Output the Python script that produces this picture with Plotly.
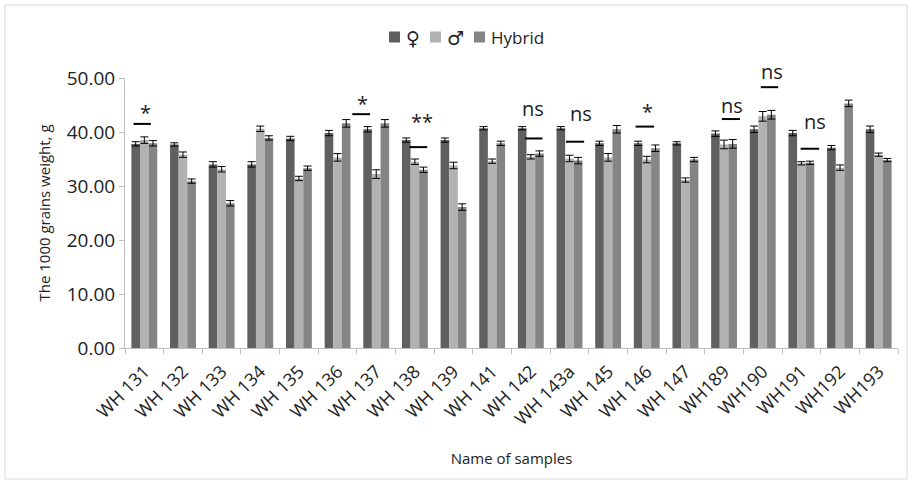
import plotly.graph_objects as go

categories = ["WH 131", "WH 132", "WH 133", "WH 134", "WH 135", "WH 136", "WH 137",
              "WH 138", "WH 139", "WH 141", "WH 142", "WH 143a", "WH 145", "WH 146",
              "WH 147", "WH189", "WH190", "WH191", "WH192", "WH193"]

female = [37.8, 37.7, 34.0, 34.0, 38.8, 39.8, 40.5, 38.5, 38.5, 40.7,
          40.7, 40.7, 37.9, 37.9, 37.9, 39.7, 40.5, 39.8, 37.1, 40.5]
male = [38.5, 35.8, 33.1, 40.6, 31.4, 35.3, 32.2, 34.5, 33.8, 34.6,
        35.4, 35.1, 35.3, 34.9, 31.1, 37.7, 42.9, 34.2, 33.4, 35.8]
hybrid = [37.9, 30.9, 26.8, 38.9, 33.3, 41.6, 41.6, 33.0, 26.1, 37.9,
          36.0, 34.7, 40.5, 37.0, 34.9, 37.8, 43.2, 34.3, 45.3, 34.8]

err_female = [0.4, 0.3, 0.5, 0.5, 0.4, 0.5, 0.5, 0.4, 0.4, 0.3,
              0.3, 0.3, 0.4, 0.4, 0.3, 0.5, 0.6, 0.5, 0.4, 0.6]
err_male = [0.6, 0.5, 0.5, 0.5, 0.4, 0.7, 0.8, 0.5, 0.6, 0.4,
            0.4, 0.6, 0.7, 0.6, 0.4, 0.8, 0.9, 0.3, 0.5, 0.3]
err_hybrid = [0.5, 0.4, 0.5, 0.4, 0.4, 0.7, 0.7, 0.5, 0.6, 0.4,
              0.5, 0.6, 0.7, 0.6, 0.4, 0.8, 0.8, 0.3, 0.6, 0.3]

series_names = ["♀", "♂", "Hybrid"]
y_ticks = [0, 10, 20, 30, 40, 50]
Y_MAX = 50

# significance marks: (category, text, line level, text level)
sig_cats = ["WH 131", "WH 137", "WH 138", "WH 142", "WH 143a", "WH 146", "WH189", "WH190", "WH191"]
sig_text = ["*", "*", "**", "ns", "ns", "*", "ns", "ns", "ns"]
sig_line_y = [41.5, 43.3, 37.2, 38.8, 38.2, 41.0, 42.4, 48.3, 36.9]
sig_text_y = [43.6, 45.2, 41.9, 44.4, 43.5, 43.8, 45.0, 51.2, 42.0]
sig_line_x0 = [-0.28, -0.62, -0.14, -0.15, -0.09, -0.29, -0.06, -0.05, -0.02]
sig_line_x1 = [0.17, -0.16, 0.32, 0.30, 0.38, 0.19, 0.41, 0.40, 0.46]
sig_text_dx = [0.02, -0.35, 0.18, 0.05, 0.30, 0.02, 0.20, 0.23, 0.35]

colors = ["#606060", "#b2b2b2", "#858585"]
FONT = "Open Sans"
TXT = "#222222"

# plot-area geometry in pixels (for paper-referenced decorations)
L, R, T, B = 125, 898, 78, 348
def px(x):
    return (x - L) / (R - L)
def py(y):
    return (B - y) / (B - T)

fig = go.Figure()
for name, vals, errs, col in zip(series_names, [female, male, hybrid],
                                 [err_female, err_male, err_hybrid], colors):
    fig.add_trace(go.Bar(
        x=categories, y=vals, name=name, showlegend=False,
        marker=dict(color=col, line=dict(width=0)),
        error_y=dict(type="data", array=errs, visible=True, color="black",
                     thickness=1, width=4),
    ))

shapes = []
annotations = []
for c, t, ly, ty, x0, x1, dx in zip(sig_cats, sig_text, sig_line_y, sig_text_y,
                                     sig_line_x0, sig_line_x1, sig_text_dx):
    i = categories.index(c)
    shapes.append(dict(type="line", xref="x", yref="y", x0=i + x0, x1=i + x1,
                       y0=ly, y1=ly, line=dict(color="black", width=2)))
    annotations.append(dict(xref="x", yref="paper", x=i + dx, y=ty / Y_MAX, text=t,
                            showarrow=False, yanchor="middle",
                            font=dict(family=FONT, size=20, color=TXT)))

# legend (drawn manually for compact spacing)
leg_sq_x = [389, 430, 474]
leg_sizes = [19, 19, 17]
leg_fonts = ["DejaVu Sans", "DejaVu Sans", FONT]
for name, col, sx, fs, ff in zip(series_names, colors, leg_sq_x, leg_sizes, leg_fonts):
    shapes.append(dict(type="rect", xref="paper", yref="paper",
                       x0=px(sx), x1=px(sx + 11), y0=py(31.5), y1=py(42.5),
                       fillcolor=col, line=dict(width=0)))
    annotations.append(dict(xref="paper", yref="paper", x=px(sx + 15), y=py(37.5),
                            xanchor="left", yanchor="middle", text=name, showarrow=False,
                            font=dict(family=ff, size=fs, color=TXT)))

# outer frame
shapes.append(dict(type="rect", xref="paper", yref="paper",
                   x0=px(5), x1=px(907), y0=py(479), y1=py(5),
                   line=dict(color="#d9d9d9", width=1), layer="below"))

fig.update_layout(
    width=912, height=483,
    margin=dict(l=L, r=912 - R, t=T, b=483 - B),
    paper_bgcolor="white", plot_bgcolor="white",
    barmode="group", bargap=0.33, bargroupgap=0,
    font=dict(family=FONT, color=TXT),
    shapes=shapes, annotations=annotations,
)
fig.update_xaxes(
    type="category", tickangle=-45, tickson="boundaries", ticks="outside", ticklen=5,
    tickcolor="#bfbfbf", showline=True, linecolor="#bfbfbf", linewidth=1,
    tickfont=dict(family=FONT, size=18, color=TXT), ticklabelstandoff=5,
    title=dict(text="Name of samples", font=dict(family=FONT, size=15, color=TXT), standoff=24),
    showgrid=False,
)
fig.update_yaxes(
    range=[0, Y_MAX], tickvals=y_ticks, tickformat=".2f", ticks="outside", ticklen=5,
    tickcolor="#bfbfbf", showline=True, linecolor="#bfbfbf", linewidth=1,
    tickfont=dict(family=FONT, size=19, color=TXT), showgrid=False, zeroline=False,
    title=dict(text="The 1000 grains weight, g", font=dict(family=FONT, size=15, color=TXT), standoff=12),
)

fig.write_html("out.html")
